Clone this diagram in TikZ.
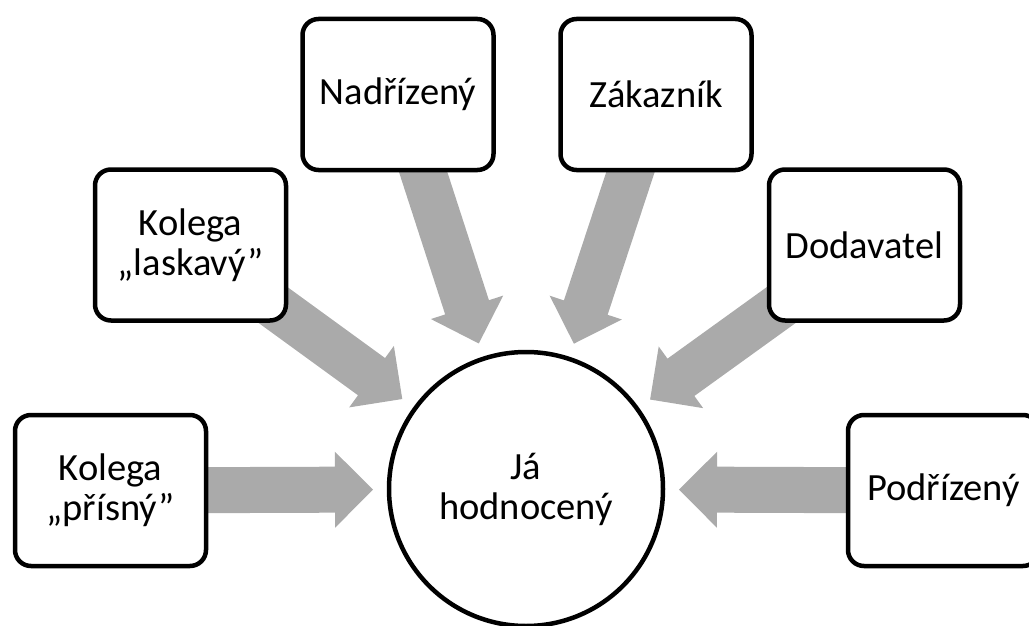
\documentclass[tikz,border=0pt]{standalone}
\usepackage{fontspec}
\setmainfont{Carlito}
\usetikzlibrary{calc,backgrounds}
\definecolor{mgray}{RGB}{170,170,170}

\begin{document}
\begin{tikzpicture}[x=1pt,y=-1pt,line width=4.5pt]
  \tikzset{role box/.style={draw,rounded corners=16pt,fill=white,minimum width=191pt,minimum height=151pt,inner sep=0pt,align=center,font=\fontsize{38.5}{40}\selectfont}}
  \useasboundingbox (0,0) rectangle (1029,626);

  \node [circle,draw,fill=white,minimum size=274pt,inner sep=0pt,align=center,font=\fontsize{38.5}{40}\selectfont] (Me) at (526,489) {Já\\hodnocený}; % centre
  \node [role box] (Strict) at (110.5,490.5) {Kolega\\„přísný”};
  \node [role box] (Kind) at (190.5,245) {Kolega\\„laskavý”};
  \node [role box] (Boss) at (398,94.5) {Nadřízený};
  \node [role box] (Client) at (656,94.5) {Zákazník};
  \node [role box] (Supplier) at (864.5,245) {Dodavatel};
  \node [role box] (Sub) at (943.5,490.5) {Podřízený};

  % block arrows towards the centre
  \begin{scope}[on background layer]
    \foreach \src in {Strict,Kind,Boss,Client,Supplier,Sub} {
      \coordinate (t) at (\src.center);
      \coordinate (p) at ($(Me.center)!153pt!(t)$);
      \coordinate (b) at ($(p)!38pt!(t)$);
      \fill[mgray] ($(t)!23pt!90:(p)$) -- ($(b)!23pt!90:(p)$) -- ($(b)!38pt!90:(p)$) -- (p)
        -- ($(b)!38pt!-90:(p)$) -- ($(b)!23pt!-90:(p)$) -- ($(t)!23pt!-90:(p)$) -- cycle;
    }
  \end{scope}
\end{tikzpicture}
\end{document}
